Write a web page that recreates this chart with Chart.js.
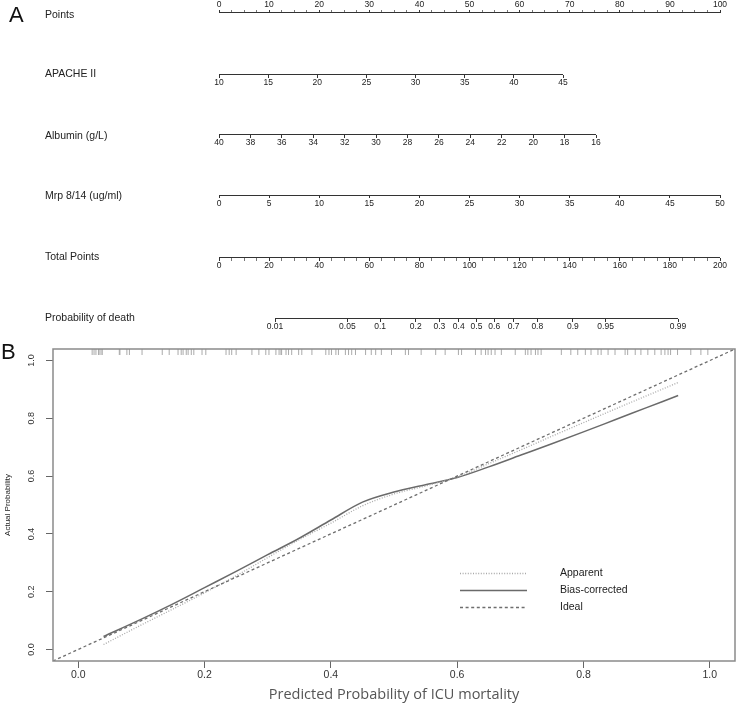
<!DOCTYPE html>
<html><head><meta charset="utf-8">
<script src="https://cdn.jsdelivr.net/npm/chart.js@4"></script>
<style>
html,body{margin:0;padding:0;background:#fff;}
#wrap{position:relative;width:740px;height:706px;overflow:hidden;font-family:"Liberation Sans",Arial,sans-serif;}
canvas{position:absolute;left:0;}
#cA{top:0;}
#cB{top:335px;}
.lbl{position:absolute;left:45px;font-size:10.5px;line-height:12px;color:#222;white-space:nowrap;}
.panel{position:absolute;font-size:22px;line-height:22px;color:#111;}
</style></head>
<body><div id="wrap">
<canvas id="cA" width="740" height="340"></canvas>
<canvas id="cB" width="740" height="371"></canvas>
<div class="panel" style="left:9px;top:4px">A</div>
<div class="panel" style="left:1px;top:341px">B</div>
</div>
<script>
// ---------------- DATA ----------------
const rowLabels = ['Points', 'APACHE II', 'Albumin (g/L)', 'Mrp 8/14 (ug/ml)', 'Total Points', 'Probability of death'];
const pointsTicks = [0, 10, 20, 30, 40, 50, 60, 70, 80, 90, 100];
const apacheTicks = [10, 15, 20, 25, 30, 35, 40, 45];
const albuminTicks = [40, 38, 36, 34, 32, 30, 28, 26, 24, 22, 20, 18, 16];
const mrpTicks = [0, 5, 10, 15, 20, 25, 30, 35, 40, 45, 50];
const totalTicks = [0, 20, 40, 60, 80, 100, 120, 140, 160, 180, 200];
const probTicks = [0.01, 0.05, 0.1, 0.2, 0.3, 0.4, 0.5, 0.6, 0.7, 0.8, 0.9, 0.95, 0.99];

const calTicks = [0.0, 0.2, 0.4, 0.6, 0.8, 1.0];
const predicted     = [0.04, 0.10, 0.15, 0.20, 0.25, 0.30, 0.35, 0.40, 0.45, 0.50, 0.55, 0.60, 0.65, 0.70, 0.75, 0.80, 0.85, 0.90, 0.95];
const apparent      = [0.017, 0.085, 0.140, 0.196, 0.255, 0.318, 0.380, 0.437, 0.497, 0.538, 0.566, 0.597, 0.643, 0.690, 0.738, 0.785, 0.832, 0.878, 0.924];
const biasCorrected = [0.045, 0.105, 0.158, 0.214, 0.270, 0.328, 0.385, 0.448, 0.510, 0.545, 0.570, 0.595, 0.632, 0.672, 0.712, 0.753, 0.795, 0.837, 0.879];
const idealEnds = [-0.04, 1.04];
const rugPredicted = [0.022,0.025,0.028,0.032,0.033,0.036,0.038,0.065,0.066,0.077,0.081,0.101,0.133,0.144,0.158,0.163,0.166,0.171,0.174,0.179,0.183,0.196,0.202,0.234,0.239,0.243,0.250,
  0.275,0.286,0.297,0.302,0.313,0.318,0.321,0.322,0.329,0.333,0.338,0.349,0.354,0.370,0.392,0.397,0.401,0.408,0.412,0.423,0.428,0.433,0.439,0.455,0.464,0.471,0.480,0.496,0.518,0.523,0.543,0.566,0.581,0.602,0.607,0.629,0.638,0.645,0.649,0.654,0.660,0.670,0.692,0.708,0.712,0.717,0.724,0.728,0.733,0.765,0.780,0.791,0.803,0.812,0.823,0.828,0.839,0.850,0.866,0.870,0.882,0.891,0.902,0.913,0.923,0.929,0.934,0.938,0.949,0.970,0.986,0.997];
const legendLabels = ['Apparent', 'Bias-corrected', 'Ideal'];

// ---------------- PANEL A (nomogram) ----------------
const FONT = '"Liberation Sans", Arial, sans-serif';
const WA = 740, HA = 340;
function logit(p) { return Math.log(p / (1 - p)); }
const ident = v => v;

const rows = [
  { id: 'xPts',    major: pointsTicks,  minorStep: 2.5, anchors: [0, 219, 100, 720],    y: 12.5, up: true, labelY: 13.5 },
  { id: 'xApache', major: apacheTicks,  anchors: [10, 219, 45, 563],    y: 74.5, labelY: 73 },
  { id: 'xAlb',    major: albuminTicks, anchors: [40, 219, 16, 596],    y: 134.5, labelY: 134.5 },
  { id: 'xMrp',    major: mrpTicks,     anchors: [0, 219, 50, 720],     y: 195.5, labelY: 195 },
  { id: 'xTot',    major: totalTicks,   minorStep: 5, anchors: [0, 219, 200, 720], y: 257.5, labelY: 256 },
  { id: 'xProb',   major: probTicks,    transform: logit, anchors: [0.01, 275, 0.99, 678], y: 318.5, labelY: 317 }
];

const scalesA = { y: { type: 'linear', display: false, min: 0, max: HA, reverse: true } };
const datasetsA = [];
rows.forEach((row, ri) => {
  const f = row.transform || ident;
  const [v1, p1, v2, p2] = row.anchors;
  const k = (p2 - p1) / (f(v2) - f(v1));
  const a = f(v1) - p1 / k, b = f(v1) + (WA - p1) / k;
  const all = row.major.map(v => ({ value: f(v), label: String(v), minor: false }));
  if (row.minorStep) {
    const lo = Math.min(...row.major), hi = Math.max(...row.major);
    for (let v = lo; v <= hi + 1e-9; v += row.minorStep) {
      if (!row.major.some(m => Math.abs(m - v) < 1e-9)) all.push({ value: f(v), label: '', minor: true });
    }
  }
  all.sort((u, w) => u.value - w.value);
  row.all = all;
  scalesA[row.id] = {
    type: 'linear', axis: 'x', position: { y: row.y },
    min: Math.min(a, b), max: Math.max(a, b), reverse: k < 0, bounds: 'data',
    afterBuildTicks: s => { s.ticks = row.all.map(t => ({ value: t.value })); },
    afterFit: s => { s.paddingLeft = 0; s.paddingRight = 0; s.paddingTop = 0; s.paddingBottom = 0; },
    ticks: {
      autoSkip: false, maxRotation: 0, minRotation: 0,
      padding: row.up ? -10 : 0.5,
      font: { family: FONT, size: 8.5 }, color: '#222',
      callback: (v, i) => (row.all[i] ? row.all[i].label : '')
    },
    grid: {
      display: true, drawOnChartArea: false, drawTicks: true,
      tickLength: row.up ? -3 : 3, tickWidth: 1,
      tickColor: c => (row.all[c.index] && row.all[c.index].minor) ? '#777' : '#333'
    },
    border: { display: false }
  };
  const ends = [f(row.major[0]), f(row.major[row.major.length - 1])];
  datasetsA.push({
    type: 'line', xAxisID: row.id, yAxisID: 'y',
    data: ends.map(x => ({ x, y: row.y })),
    borderColor: '#333', borderWidth: 1, pointRadius: 0, fill: false
  });
  const d = document.createElement('div');
  d.className = 'lbl';
  d.textContent = rowLabels[ri];
  d.style.top = (row.labelY - 6) + 'px';
  document.getElementById('wrap').appendChild(d);
});

new Chart(document.getElementById('cA'), {
  type: 'line',
  data: { datasets: datasetsA },
  options: {
    responsive: false, animation: false, events: [],
    layout: { padding: 0 },
    plugins: { legend: { display: false }, tooltip: { enabled: false } },
    scales: scalesA
  }
});

// ---------------- PANEL B (calibration) ----------------
const RUG_Y = 1.0296;
const datasetsB = [
  { type: 'scatter', label: 'rug', data: rugPredicted.map(x => ({ x, y: RUG_Y })),
    pointStyle: 'line', rotation: 90, pointRadius: 3, pointBorderWidth: 1, pointBorderColor: '#aaaaaa', showLine: false },
  { type: 'line', label: legendLabels[2], inLegend: 2, data: idealEnds.map(v => ({ x: v, y: v })),
    borderColor: '#6e6e6e', borderWidth: 1.3, borderDash: [3, 2.6], pointRadius: 0, fill: false },
  { type: 'line', label: legendLabels[0], inLegend: 0, data: predicted.map((x, i) => ({ x, y: apparent[i] })),
    borderColor: '#a9a9a9', borderWidth: 1.3, borderDash: [1, 1.6], pointRadius: 0, fill: false, cubicInterpolationMode: 'monotone' },
  { type: 'line', label: legendLabels[1], inLegend: 1, data: predicted.map((x, i) => ({ x, y: biasCorrected[i] })),
    borderColor: '#6a6a6a', borderWidth: 1.5, pointRadius: 0, fill: false, cubicInterpolationMode: 'monotone' }
];

const framePlugin = {
  id: 'frame',
  afterDatasetsDraw(chart) {
    const { left, top, right, bottom } = chart.chartArea;
    const ctx = chart.ctx;
    ctx.save();
    ctx.strokeStyle = '#8a8a8a'; ctx.lineWidth = 1.5;
    ctx.strokeRect(left, top, right - left, bottom - top);
    ctx.restore();
  }
};
const legendPlugin = {
  id: 'calLegend',
  afterDraw(chart) {
    const ctx = chart.ctx;
    const items = chart.data.datasets.filter(d => d.inLegend !== undefined).sort((a, b) => a.inLegend - b.inLegend);
    ctx.save();
    items.forEach((d, i) => {
      const y = 238.5 + i * 17;
      ctx.strokeStyle = d.borderColor; ctx.lineWidth = d.borderWidth;
      ctx.setLineDash(d.borderDash || []);
      ctx.beginPath(); ctx.moveTo(460, y); ctx.lineTo(527, y); ctx.stroke();
      ctx.setLineDash([]);
      ctx.fillStyle = '#222'; ctx.font = '10.5px ' + FONT; ctx.textBaseline = 'middle'; ctx.textAlign = 'left';
      ctx.fillText(d.label, 560, y);
    });
    ctx.restore();
  }
};

new Chart(document.getElementById('cB'), {
  type: 'line',
  data: { datasets: datasetsB },
  options: {
    responsive: false, animation: false, events: [],
    layout: { padding: { top: 14, right: 2, left: 0, bottom: 0 } },
    plugins: { legend: { display: false }, tooltip: { enabled: false } },
    scales: {
      x: {
        type: 'linear', position: 'bottom', min: -0.04, max: 1.04, bounds: 'data',
        afterBuildTicks: s => { s.ticks = calTicks.map(v => ({ value: v })); },
        afterFit: s => { s.height = 45; s.paddingLeft = 0; s.paddingRight = 0; },
        ticks: { autoSkip: false, maxRotation: 0, minRotation: 0, padding: 1,
                 font: { family: FONT, size: 10.5 }, color: '#333', callback: v => Number(v).toFixed(1) },
        grid: { display: true, drawOnChartArea: false, drawTicks: true, tickLength: 7, tickColor: '#666', tickWidth: 1 },
        border: { display: false },
        title: { display: true, text: 'Predicted Probability of ICU mortality',
                 font: { family: '"Open Sans", "Noto Sans", sans-serif', size: 14.5 }, color: '#555', padding: { top: 0, bottom: 2 } }
      },
      y: {
        type: 'linear', position: 'left', min: -0.04, max: 1.04, bounds: 'data',
        afterBuildTicks: s => { s.ticks = calTicks.map(v => ({ value: v })); },
        afterFit: s => { s.width = 53; s.paddingTop = 0; s.paddingBottom = 0; },
        ticks: { autoSkip: false, minRotation: 90, maxRotation: 90, crossAlign: 'center', padding: 8,
                 font: { family: FONT, size: 9 }, color: '#333', callback: v => Number(v).toFixed(1) },
        grid: { display: true, drawOnChartArea: false, drawTicks: true, tickLength: 7, tickColor: '#666', tickWidth: 1 },
        border: { display: false },
        title: { display: true, text: 'Actual Probability', font: { family: FONT, size: 8 }, color: '#222', padding: { top: 3, bottom: 0 } }
      }
    }
  },
  plugins: [framePlugin, legendPlugin]
});
</script>
</body></html>
